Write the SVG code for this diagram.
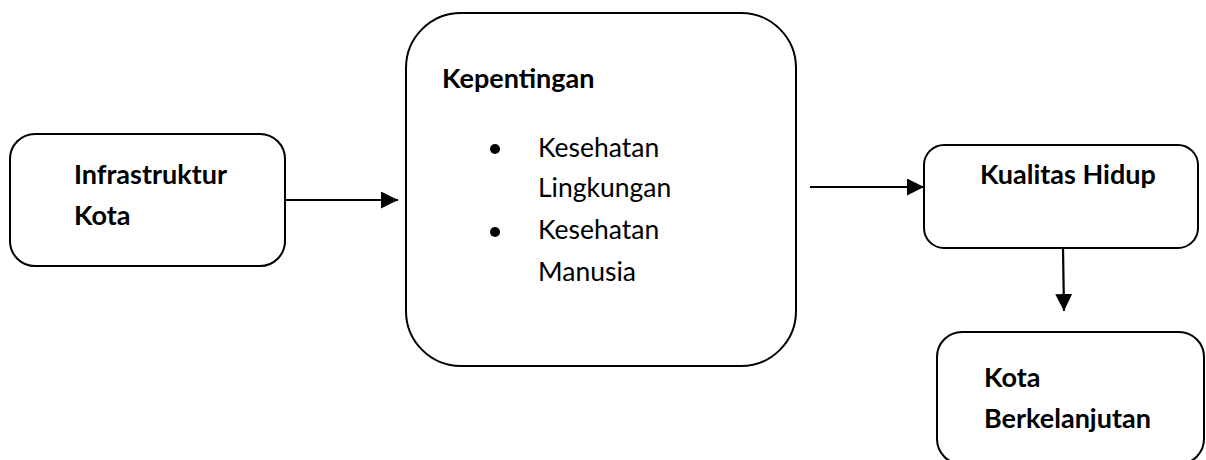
<svg xmlns="http://www.w3.org/2000/svg" width="1206" height="460" viewBox="0 0 1206 460">
<defs>
<marker id="ah" markerWidth="17" markerHeight="17" refX="17" refY="8.5" orient="auto" markerUnits="userSpaceOnUse">
<path d="M0,0 L17,8.5 L0,17 Z" fill="#000"/>
</marker>
<style>
.box{fill:#fff;stroke:#000;stroke-width:2}
.b{font-family:Lato,"Liberation Sans",sans-serif;font-weight:bold;font-size:27px;fill:#000}
.r{font-family:Lato,"Liberation Sans",sans-serif;font-size:26.5px;fill:#000}
.c{stroke:#000;stroke-width:2.2;fill:none}
</style>
</defs>
<rect width="1206" height="460" fill="#fff"/>
<g id="infrastruktur">
<rect class="box" x="10" y="134" width="275" height="132" rx="25"/>
<text class="b" x="74" y="184">Infrastruktur</text>
<text class="b" x="74" y="225">Kota</text>
</g>
<g id="kepentingan">
<rect class="box" x="406" y="13" width="390" height="353" rx="55"/>
<text class="b" x="442" y="88">Kepentingan</text>
<circle cx="495" cy="149" r="5"/>
<circle cx="495" cy="232" r="5"/>
<text class="r" x="538" y="157">Kesehatan</text>
<text class="r" x="538" y="197">Lingkungan</text>
<text class="r" x="538" y="239">Kesehatan</text>
<text class="r" x="538" y="281">Manusia</text>
</g>
<g id="kualitas">
<rect class="box" x="924" y="145" width="274" height="103" rx="20"/>
<text class="b" x="980" y="184">Kualitas Hidup</text>
</g>
<g id="kota">
<rect class="box" x="937" y="332" width="267" height="132" rx="25"/>
<text class="b" x="984" y="387">Kota</text>
<text class="b" x="984" y="428">Berkelanjutan</text>
</g>
<g id="connectors">
<line class="c" x1="285" y1="200" x2="398" y2="200" marker-end="url(#ah)"/>
<line class="c" x1="810" y1="187" x2="924" y2="187" marker-end="url(#ah)"/>
<line class="c" x1="1063" y1="248" x2="1064" y2="311" marker-end="url(#ah)"/>
</g>
</svg>
